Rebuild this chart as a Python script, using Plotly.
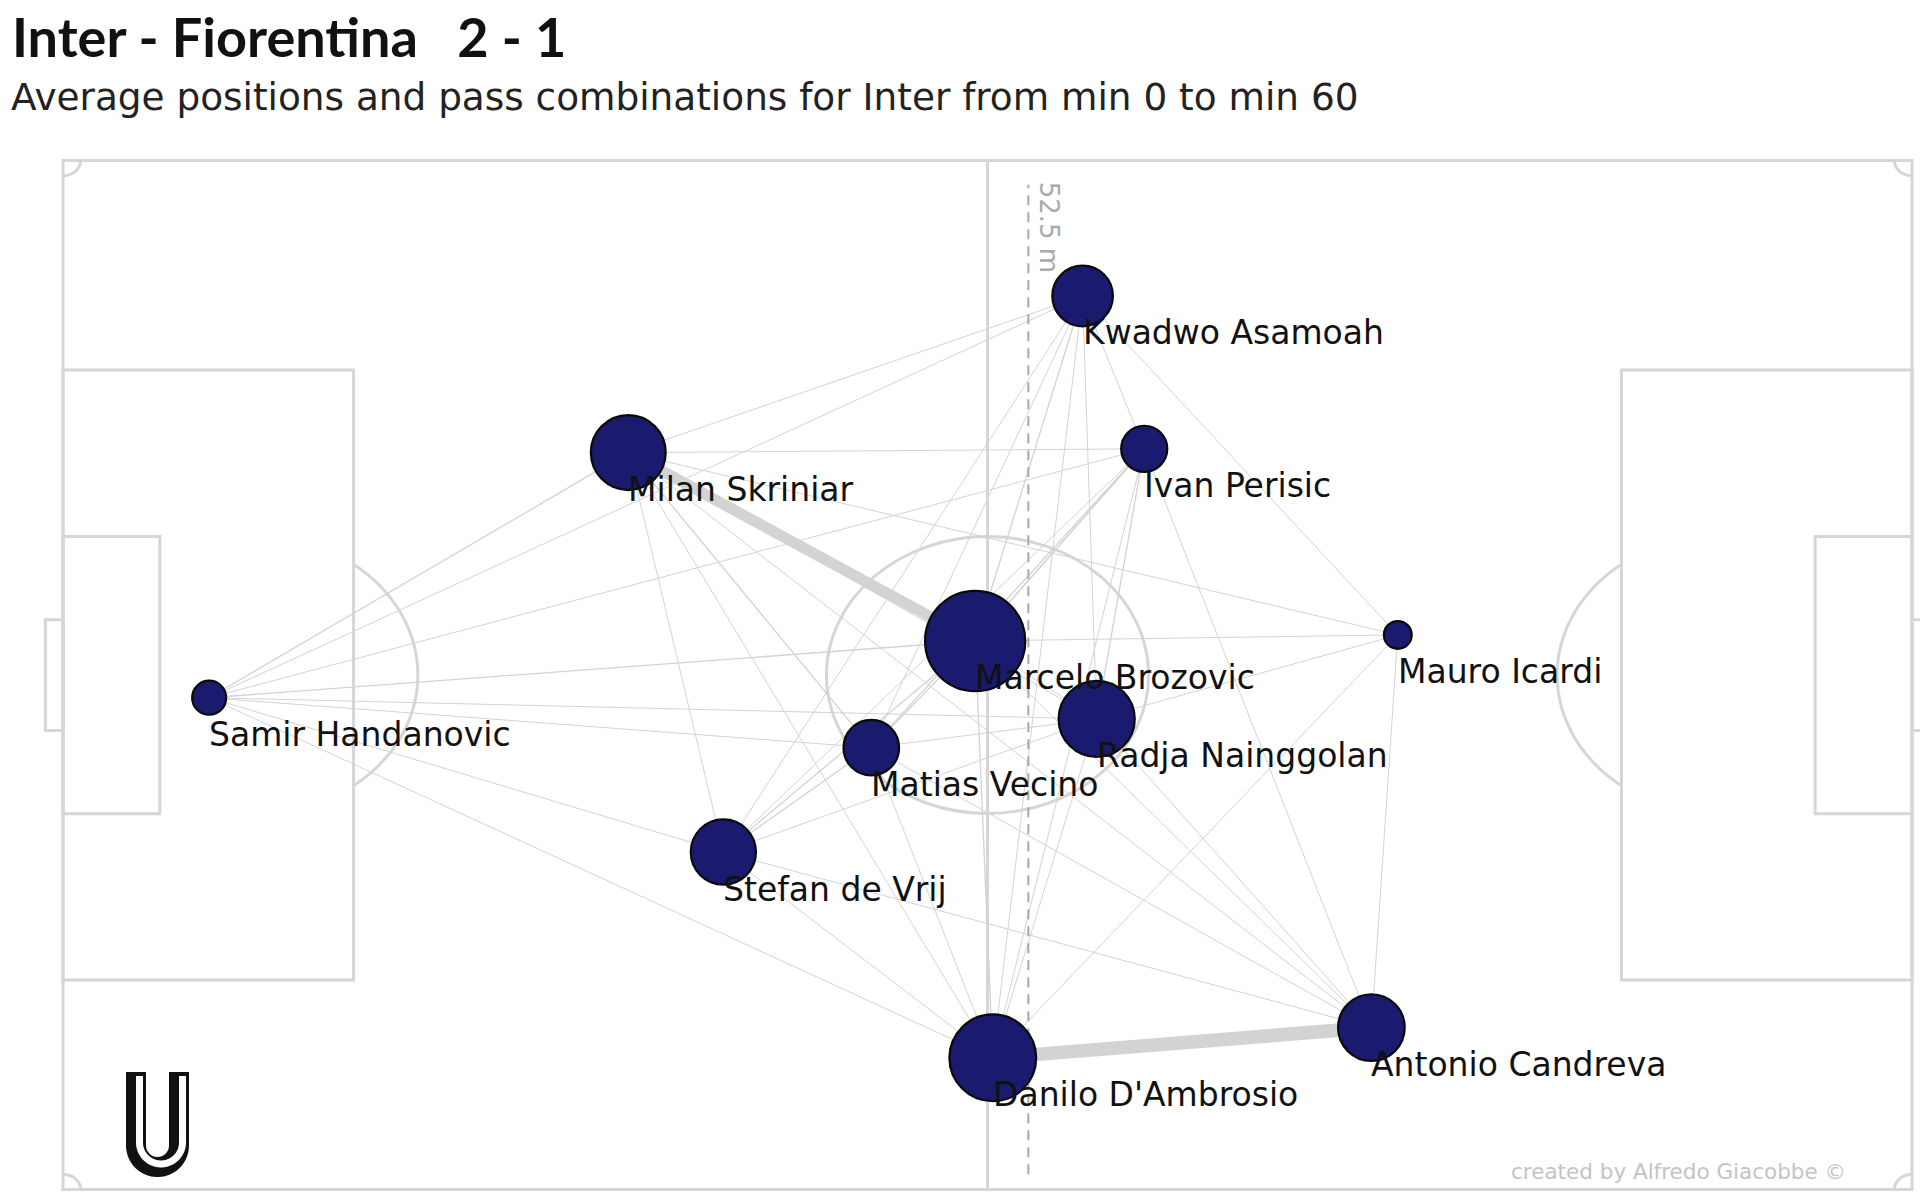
import numpy as np
import plotly.graph_objects as go

# ---------------- data ----------------
players = ["Samir Handanovic", "Milan Skriniar", "Stefan de Vrij", "Matias Vecino",
           "Marcelo Brozovic", "Danilo D'Ambrosio", "Kwadwo Asamoah", "Ivan Perisic",
           "Radja Nainggolan", "Antonio Candreva", "Mauro Icardi"]
codes = ["HAN", "SKR", "DEV", "VEC", "BRO", "DAM", "ASA", "PER", "NAI", "CAN", "ICA"]
avg_x = [8.3, 32.1, 37.5, 45.9, 51.8, 52.8, 57.9, 61.4, 58.7, 74.3, 75.8]    # metres
avg_y = [32.5, 48.7, 22.3, 29.2, 36.25, 8.7, 59.05, 48.95, 31.1, 10.7, 36.65]  # metres
passes = [6, 29, 22, 16, 52, 39, 19, 11, 30, 23, 4]
goalkeeper = ["HAN"]

pass_from = ["HAN", "HAN", "HAN", "HAN", "HAN", "HAN", "HAN", "HAN",
             "SKR", "SKR", "SKR", "SKR", "SKR", "SKR", "SKR", "SKR", "SKR",
             "DEV", "DEV", "DEV", "DEV", "DEV", "DEV", "DEV",
             "VEC", "VEC", "VEC", "VEC", "VEC", "VEC",
             "BRO", "BRO", "BRO", "BRO", "BRO", "BRO",
             "DAM", "DAM", "DAM", "DAM", "DAM",
             "ASA", "ASA", "ASA",
             "PER", "PER",
             "NAI", "NAI",
             "ICA"]
pass_to = ["SKR", "ASA", "PER", "BRO", "NAI", "VEC", "DEV", "DAM",
           "BRO", "ASA", "PER", "ICA", "DEV", "VEC", "DAM", "NAI", "CAN",
           "VEC", "BRO", "PER", "ASA", "NAI", "DAM", "CAN",
           "BRO", "NAI", "DAM", "CAN", "ASA", "PER",
           "NAI", "DAM", "ASA", "PER", "ICA", "CAN",
           "NAI", "PER", "ASA", "ICA", "CAN",
           "PER", "ICA", "NAI",
           "NAI", "CAN",
           "CAN", "ICA",
           "CAN"]
pass_count = [4, 3, 3, 4, 3, 3, 3, 3,
              33, 3, 3, 3, 3, 4, 3, 3, 3,
              4, 4, 3, 3, 3, 3, 3,
              4, 3, 3, 3, 3, 4,
              3, 4, 4, 5, 3, 3,
              3, 3, 3, 3, 41,
              3, 3, 3,
              4, 3,
              3, 3,
              3]

avg_line_label = "52.5 m"
title_text = "Inter - Fiorentina\u00a0\u00a0\u00a02 - 1"
subtitle_text = "Average positions and pass combinations for Inter from min 0 to min 60"
credit_text = "created by Alfredo Giacobbe \u00a9"

# ---------------- geometry / styles ----------------
W, H = 1920, 1195
L, WID = 105.0, 68.0
MT = 130
XR = [-3.578, 105.454]
YR = [-0.3635, 70.02]
sx = W / (XR[1] - XR[0])
sy = (H - MT) / (YR[1] - YR[0])

def px_x(p):  # pixel -> data x (decoration helper)
    return XR[0] + p / sx

def px_y(p):
    return YR[1] - (p - MT) / sy

def pap_x(p):
    return p / W

def pap_y(p):
    return (H - p) / (H - MT)

LINE = "#d6d6d6"
LW = 3
FONT = "DejaVu Sans"

fig = go.Figure()
shapes = []

def rect(x0, y0, x1, y1):
    shapes.append(dict(type="rect", xref="x", yref="y", x0=x0, y0=y0, x1=x1, y1=y1,
                       line=dict(color=LINE, width=LW), layer="below"))

def poly(xs, ys, color=LINE, width=LW):
    d = "M " + " L ".join(f"{a:.4f},{b:.4f}" for a, b in zip(xs, ys))
    shapes.append(dict(type="path", xref="x", yref="y", path=d,
                       line=dict(color=color, width=width), layer="below"))

# pitch
rect(0, 0, L, WID)
poly([L / 2, L / 2], [0, WID])
shapes.append(dict(type="circle", xref="x", yref="y", x0=L / 2 - 9.15, x1=L / 2 + 9.15,
                   y0=WID / 2 - 9.15, y1=WID / 2 + 9.15, line=dict(color=LINE, width=LW),
                   layer="below"))
pb_y0, pb_y1 = WID / 2 - 20.16, WID / 2 + 20.16
sb_y0, sb_y1 = WID / 2 - 9.16, WID / 2 + 9.16
g_y0, g_y1 = WID / 2 - 3.66, WID / 2 + 3.66
rect(0, pb_y0, 16.5, pb_y1)
rect(L - 16.5, pb_y0, L, pb_y1)
rect(0, sb_y0, 5.5, sb_y1)
rect(L - 5.5, sb_y0, L, sb_y1)
rect(-1.0, g_y0, 0, g_y1)
rect(L, g_y0, L + 1.0, g_y1)
a = np.degrees(np.arccos(5.5 / 9.15))
t = np.radians(np.linspace(-a, a, 60))
poly(11 + 9.15 * np.cos(t), WID / 2 + 9.15 * np.sin(t))
t2 = np.radians(np.linspace(180 - a, 180 + a, 60))
poly(L - 11 + 9.15 * np.cos(t2), WID / 2 + 9.15 * np.sin(t2))
for cx, cy, a0 in [(0, 0, 0), (L, 0, 90), (L, WID, 180), (0, WID, 270)]:
    tt = np.radians(np.linspace(a0, a0 + 90, 20))
    poly(cx + 1.0 * np.cos(tt), cy + 1.0 * np.sin(tt))

# logo (U)
cxp, cyp, r = 157.5, 1145.5, 21.5
tt = np.linspace(np.pi, 0, 40)
ux = [136, 136] + list(cxp + r * np.cos(tt)) + [179, 179]
uy = [1072, cyp] + list(cyp + r * np.sin(tt)) + [cyp, 1072]
poly([px_x(v) for v in ux], [px_y(v) for v in uy], color="#111111", width=20)
ux2 = [v + 3.5 for v in ux]
uy2 = [1076] + [v - 3 for v in uy[1:-1]] + [1076]
poly([px_x(v) for v in ux2], [px_y(v) for v in uy2], color="#ffffff", width=7)

# ---------------- passes ----------------
idx = {c: i for i, c in enumerate(codes)}
for f, tto, n in zip(pass_from, pass_to, pass_count):
    i, j = idx[f], idx[tto]
    fig.add_trace(go.Scatter(x=[avg_x[i], avg_x[j]], y=[avg_y[i], avg_y[j]], mode="lines",
                             line=dict(color="#d3d3d3", width=n / 3.0),
                             hoverinfo="skip", showlegend=False))

# average line of outfield players
out_x = [x for x, c in zip(avg_x, codes) if c not in goalkeeper]
mean_x = float(np.mean(out_x))
fig.add_trace(go.Scatter(x=[mean_x, mean_x], y=[1.0, WID - 1.6], mode="lines",
                         line=dict(color="#a8a8a8", width=2, dash="10px,7px"),
                         hoverinfo="skip", showlegend=False))

# players
fig.add_trace(go.Scatter(x=avg_x, y=avg_y, mode="markers",
                         marker=dict(size=[13.9 * np.sqrt(p) for p in passes],
                                     sizemode="diameter", color="#1a1a6e",
                                     line=dict(color="#0a0a0a", width=2.2), opacity=1),
                         hoverinfo="skip", showlegend=False))

ann = []
for name, x, y in zip(players, avg_x, avg_y):
    ann.append(dict(x=x, y=y, xref="x", yref="y", text=name, showarrow=False,
                    xanchor="left", yanchor="middle", yshift=-37, xshift=-2,
                    font=dict(family=FONT, size=33, color="#111111")))
ann.append(dict(x=mean_x, y=WID, xref="x", yref="y", text=avg_line_label, showarrow=False,
                textangle=90, xanchor="left", yanchor="top", xshift=4, yshift=-19,
                font=dict(family=FONT, size=26, color="#aaaaaa")))
ann.append(dict(x=pap_x(10), y=pap_y(37), xref="paper", yref="paper", text="<b>" + title_text + "</b>",
                showarrow=False, xanchor="left", yanchor="middle",
                font=dict(family="Lato", size=54, color="#111111")))
ann.append(dict(x=pap_x(9), y=pap_y(97), xref="paper", yref="paper", text=subtitle_text,
                showarrow=False, xanchor="left", yanchor="middle",
                font=dict(family=FONT, size=37.4, color="#222222")))
ann.append(dict(x=pap_x(1848), y=pap_y(1171), xref="paper", yref="paper", text=credit_text,
                showarrow=False, xanchor="right", yanchor="middle",
                font=dict(family=FONT, size=21.5, color="#c4c4c4")))

fig.update_layout(
    width=W, height=H,
    margin=dict(l=0, r=0, t=MT, b=0, pad=0),
    paper_bgcolor="white", plot_bgcolor="white",
    xaxis=dict(range=XR, visible=False, fixedrange=True),
    yaxis=dict(range=YR, visible=False, fixedrange=True),
    shapes=shapes, annotations=ann, showlegend=False,
)
fig.write_html("out.html", config={"displayModeBar": False},
               post_script="document.body.style.margin='0px';document.body.style.overflow='hidden';")
